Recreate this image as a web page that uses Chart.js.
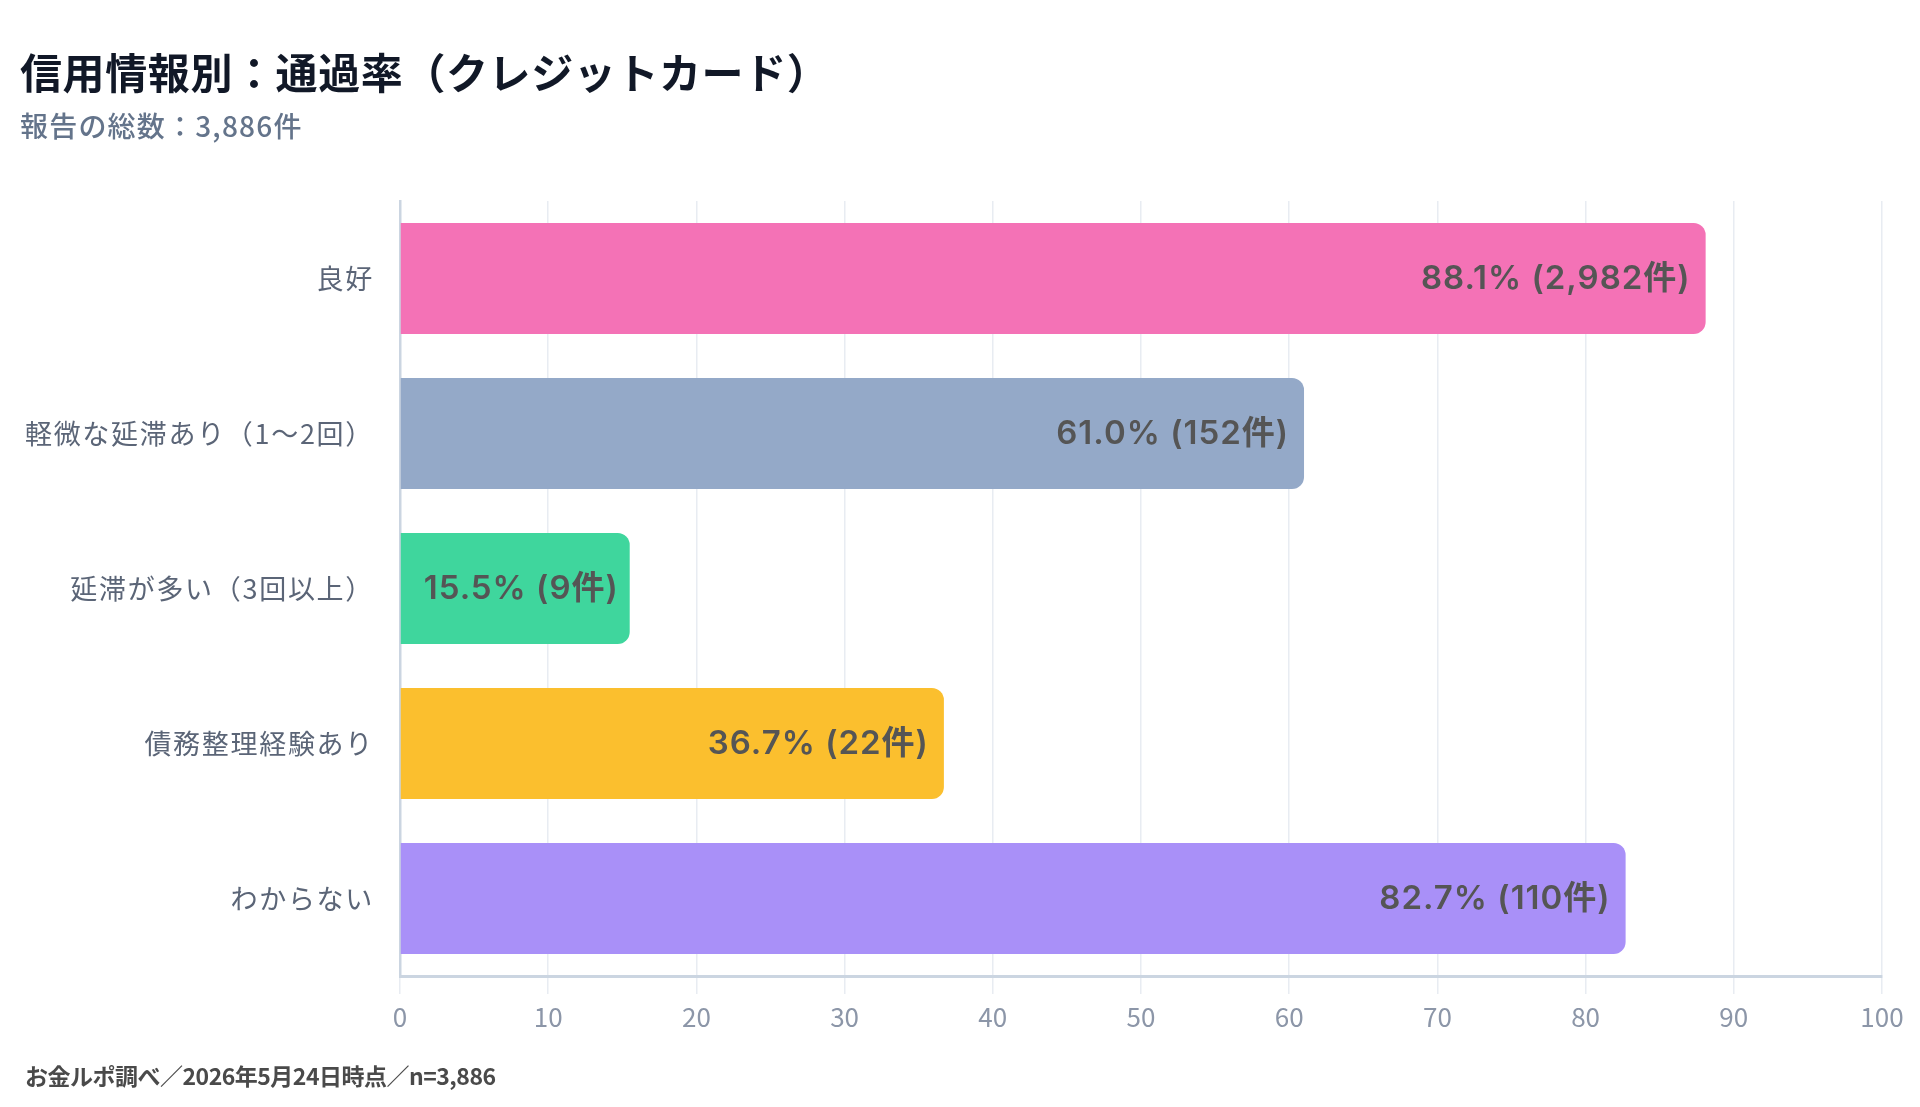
<!DOCTYPE html>
<html lang="ja">
<head>
<meta charset="utf-8">
<script src="https://cdn.jsdelivr.net/npm/chart.js@4.4.1/dist/chart.umd.min.js"></script>
<style>
	html, body { margin: 0; padding: 0; background: #fff; }
	body { width: 1920px; height: 1107px; position: relative; overflow: hidden; font-family: "Noto Sans CJK JP", "Noto Sans", sans-serif; }
	#chart { position: absolute; left: 0; top: 0; }
	.title { position: absolute; left: 20px; top: 44px; font-size: 42px; font-weight: 700; color: #111827; line-height: 54px; letter-spacing: 0.6px; white-space: nowrap; }
	.subtitle { position: absolute; left: 20px; top: 108px; font-size: 28px; font-weight: 500; color: #64748b; line-height: 34px; letter-spacing: 1.2px; white-space: nowrap; }
	.footer { position: absolute; left: 25px; top: 1060px; font-size: 23px; font-weight: 700; color: #4a4a4a; line-height: 30px; letter-spacing: -0.5px; white-space: nowrap; }
</style>
</head>
<body>
<canvas id="chart" width="1920" height="1107"></canvas>
<div class="title">信用情報別：通過率（クレジットカード）</div>
<div class="subtitle">報告の総数：3,886件</div>
<div class="footer">お金ルポ調べ／2026年5月24日時点／n=3,886</div>
<script>
// 信用情報別 通過率
const categories = ['良好', '軽微な延滞あり（1〜2回）', '延滞が多い（3回以上）', '債務整理経験あり', 'わからない'];
const passRates = [88.1, 61.0, 15.5, 36.7, 82.7];
const reportCounts = [2982, 152, 9, 22, 110];
const xTicks = [0, 10, 20, 30, 40, 50, 60, 70, 80, 90, 100];

const barColors = ['#f472b6', '#94a9c8', '#3fd69d', '#fbbf2e', '#a990f8'];

// values drawn inside the bars
const barLabels = {
	id: 'barLabels',
	afterDatasetsDraw(chart) {
		const ctx = chart.ctx;
		const meta = chart.getDatasetMeta(0);
		ctx.save();
		ctx.font = '600 33px Inter, "Noto Sans CJK JP", sans-serif';
		ctx.letterSpacing = '1px';
		ctx.fillStyle = '#555555';
		ctx.textBaseline = 'middle';
		meta.data.forEach((bar, i) => {
			const text = passRates[i].toFixed(1) + '% (' + reportCounts[i].toLocaleString('en-US') + '件)';
			const w = ctx.measureText(text).width;
			let x = bar.x - 15;
			if (x - w < bar.base + 23) {
				x = bar.base + 23 + w;
			}
			ctx.textAlign = 'right';
			ctx.fillText(text, x, bar.y + 1);
		});
		ctx.restore();
	}
};

new Chart('chart', {
	type: 'bar',
	data: {
		labels: categories,
		datasets: [{
			data: passRates,
			backgroundColor: barColors,
			borderRadius: 12,
			borderSkipped: 'start',
			categoryPercentage: 1,
			barPercentage: 0.717
		}]
	},
	options: {
		indexAxis: 'y',
		responsive: false,
		animation: false,
		layout: {
			padding: { top: 201, left: 20, right: 38, bottom: 41 }
		},
		scales: {
			x: {
				min: 0,
				max: 100,
				afterBuildTicks: (scale) => {
					scale.ticks = xTicks.map(v => ({ value: v }));
				},
				afterFit: (scale) => { scale.height = 90; },
				grid: {
					color: '#e8ecf2',
					lineWidth: 1.5,
					tickLength: 18
				},
				border: {
					display: true,
					color: '#cbd5e1',
					width: 3
				},
				ticks: {
					padding: 8,
					color: '#8c96a8',
					font: { size: 26, family: '"Noto Sans CJK JP", "Noto Sans", sans-serif' }
				}
			},
			y: {
				afterFit: (scale) => { scale.width = 380; },
				afterUpdate: (scale) => {
					// category names are spaced a little wider
					if (!scale._spaced) {
						const draw = scale.drawLabels;
						scale.drawLabels = function (area) {
							this.ctx.save();
							this.ctx.letterSpacing = '1.7px';
							draw.call(this, area);
							this.ctx.restore();
						};
						scale._spaced = true;
					}
				},
				grid: {
					display: false,
					drawTicks: false
				},
				border: {
					display: true,
					color: '#cbd5e1',
					width: 2.5
				},
				ticks: {
					padding: 26,
					color: '#5b6577',
					font: { size: 27, family: '"Noto Sans CJK JP", "Noto Sans", sans-serif' }
				}
			}
		},
		plugins: {
			legend: { display: false },
			tooltip: { enabled: false }
		}
	},
	plugins: [barLabels]
});
</script>
</body>
</html>
